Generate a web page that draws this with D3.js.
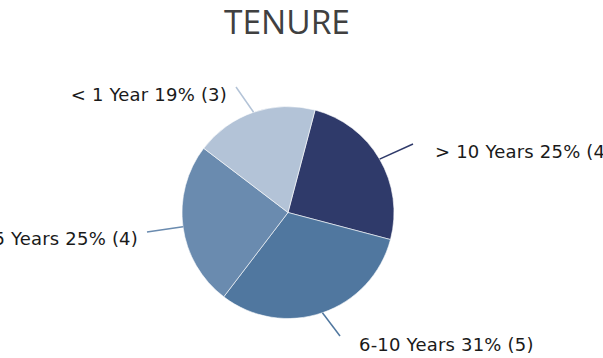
<!DOCTYPE html>
<html>
<head>
<meta charset="utf-8">
<script src="https://cdn.jsdelivr.net/npm/d3@7"></script>
<style>
  html, body { margin: 0; padding: 0; background: #fff; }
  svg { display: block; }
</style>
</head>
<body>
<svg id="chart" width="603" height="358"></svg>
<script>
// Tenure breakdown (head count per band)
const categories = ["> 10 Years", "6-10 Years", "1-5 Years", "< 1 Year"];
const counts = [4, 5, 4, 3];
const colors = ["#2f3a6a", "#50779f", "#6a8baf", "#b3c3d7"];

const width = 603, height = 358;
const cx = 288, cy = 212.5, radius = 106;
const startDeg = 14.8;

// leader-line end points and label anchors, per slice
const labelLayout = [
  { end: [413, 144], text: [435, 158], anchor: "start" },
  { end: [340, 336], text: [359, 351], anchor: "start" },
  { end: [147, 232], text: [138, 245], anchor: "end" },
  { end: [236, 87],  text: [227, 101], anchor: "end" }
];

const svg = d3.select("#chart");
const total = d3.sum(counts);

svg.append("text")
  .attr("x", 287).attr("y", 34)
  .attr("text-anchor", "middle")
  .attr("font-family", "Open Sans, sans-serif")
  .attr("font-size", 33.5)
  .attr("fill", "#404040")
  .text("TENURE");

const pie = d3.pie().sort(null).value(d => d)
  .startAngle(startDeg * Math.PI / 180)
  .endAngle((startDeg + 360) * Math.PI / 180);
const arcs = pie(counts);
const arc = d3.arc().innerRadius(0).outerRadius(radius);

const g = svg.append("g").attr("transform", `translate(${cx},${cy})`);
g.selectAll("path.slice").data(arcs).join("path")
  .attr("class", "slice")
  .attr("d", arc)
  .attr("fill", (d, i) => colors[i])
  .attr("stroke", "#ffffff")
  .attr("stroke-width", 0.6);

// leader lines from the slice rim to each label
const edge = d3.arc().innerRadius(radius).outerRadius(radius);
svg.selectAll("line.leader").data(arcs).join("line")
  .attr("class", "leader")
  .attr("x1", d => cx + edge.centroid(d)[0])
  .attr("y1", d => cy + edge.centroid(d)[1])
  .attr("x2", (d, i) => labelLayout[i].end[0])
  .attr("y2", (d, i) => labelLayout[i].end[1])
  .attr("stroke", (d, i) => colors[i])
  .attr("stroke-width", 1.5);

svg.selectAll("text.label").data(arcs).join("text")
  .attr("class", "label")
  .attr("x", (d, i) => labelLayout[i].text[0])
  .attr("y", (d, i) => labelLayout[i].text[1])
  .attr("text-anchor", (d, i) => labelLayout[i].anchor)
  .attr("font-family", "DejaVu Sans, Verdana, sans-serif")
  .attr("font-size", 18)
  .attr("letter-spacing", 0.2)
  .attr("fill", "#1a1a1a")
  .text((d, i) => `${categories[i]} ${Math.round(counts[i] / total * 100)}% (${counts[i]})`);
</script>
</body>
</html>
